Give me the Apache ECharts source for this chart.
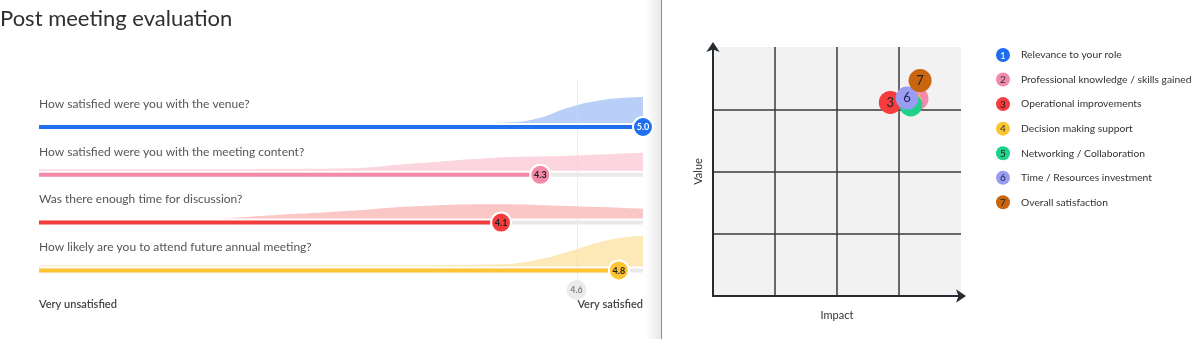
<!DOCTYPE html>
<html><head><meta charset="utf-8">
<script src="https://cdn.jsdelivr.net/npm/echarts@6/dist/echarts.min.js"></script>
<style>html,body{margin:0;padding:0;background:#fff}#c{width:1200px;height:339px}</style>
</head><body><div id="c"></div>
<script>
// ---------- Left panel data ----------
const titleText = 'Post meeting evaluation';
const questions = [
  'How satisfied were you with the venue?',
  'How satisfied were you with the meeting content?',
  'Was there enough time for discussion?',
  'How likely are you to attend future annual meeting?'
];
const scores = [5.0, 4.32, 4.06, 4.84];
const meanScore = 4.56;
const scaleLabels = ['Very unsatisfied', 'Very satisfied'];
// response distribution (score, relative density)
const densityVenue = [[1,0],[3.9,0],[4.1,0.02],[4.3,0.15],[4.5,0.5],[4.7,0.74],[4.9,0.85],[5,0.87]];
const densityContent = [[1,0.05],[2,0.055],[3,0.08],[3.5,0.25],[4,0.43],[4.5,0.5],[5,0.6]];
const densityTime = [[1,0],[2.05,0],[2.6,0.13],[3.06,0.26],[3.5,0.41],[4,0.48],[4.5,0.42],[5,0.33]];
const densityFuture = [[1,0.03],[3.5,0.04],[4.05,0.07],[4.3,0.22],[4.5,0.48],[4.72,0.81],[4.87,0.96],[5,1.02]];
const densities = [densityVenue, densityContent, densityTime, densityFuture];
const rowColors = ['#1f6ff0', '#f48aa8', '#f33d3d', '#fdc434'];
const areaColors = ['#b9cff7', '#fcd5df', '#fbc6c6', '#fde9b7'];
const badgeText = ['#ffffff', '#222222', '#222222', '#222222'];

// ---------- Right panel data ----------
const factors = [
  'Relevance to your role',
  'Professional knowledge / skills gained',
  'Operational improvements',
  'Decision making support',
  'Networking / Collaboration',
  'Time / Resources investment',
  'Overall satisfaction'
];
const impact = [3.22, 3.29, 2.86, 3.18, 3.19, 3.13, 3.34];
const valueScore = [3.15, 3.17, 3.11, 3.12, 3.07, 3.18, 3.46];
const labelVisible = [false, false, true, false, false, true, true];
const factorColors = ['#1d6cf0', '#f48aab', '#f63c3c', '#fbc531', '#20d18b', '#9a9cf0', '#c8650e'];
const factorText = ['#ffffff', '#333333', '#222222', '#333333', '#222222', '#1e2250', '#222222'];
const axisNames = ['Impact', 'Value'];

const FONT = 'Lato, "Open Sans", sans-serif';
const chart = echarts.init(document.getElementById('c'), null, {renderer: 'canvas'});

const barY = [127, 174.8, 222.6, 270.4];
const grids = [], xAxes = [], yAxes = [], series = [];
barY.forEach((by, i) => {
  grids.push({left: 39, width: 604, top: by - 37, height: 48});
  xAxes.push({gridIndex: i, type: 'value', min: 1, max: 5, show: false});
  yAxes.push({gridIndex: i, type: 'value', min: -0.5, max: 1.1, show: false});
  series.push({
    type: 'line', xAxisIndex: i, yAxisIndex: i, data: densities[i], smooth: 0.5,
    symbol: 'none', lineStyle: {width: 0}, z: 1,
    areaStyle: {color: areaColors[i], opacity: 1}, silent: true
  });
  series.push({
    type: 'custom', xAxisIndex: i, yAxisIndex: i, z: 5, silent: true,
    data: [[scores[i]]],
    renderItem: (params, api) => {
      const yb = -4 / 30;
      const s = api.coord([1, yb]);
      const e = api.coord([5, yb]);
      const p = api.coord([api.value(0), yb]);
      return {type: 'group', children: [
        {type: 'text', style: {x: s[0], y: p[1] - 23, text: questions[i], font: '12px ' + FONT, fill: '#555', verticalAlign: 'middle'}},
        {type: 'rect', shape: {x: s[0], y: p[1] - 2, width: e[0] - s[0], height: 4}, style: {fill: '#e9e9e9'}},
        {type: 'rect', shape: {x: s[0], y: p[1] - 2, width: p[0] - s[0], height: 4}, style: {fill: rowColors[i]}},
        {type: 'circle', shape: {cx: p[0], cy: p[1], r: 10}, style: {fill: rowColors[i], stroke: '#fff', lineWidth: 2}},
        {type: 'text', style: {x: p[0], y: p[1] + 0.5, text: api.value(0).toFixed(1), font: 'bold 9px ' + FONT, fill: badgeText[i], align: 'center', verticalAlign: 'middle'}}
      ]};
    }
  });
});
// mean marker grid
grids.push({left: 39, width: 604, top: 80, height: 210});
xAxes.push({gridIndex: 4, type: 'value', min: 1, max: 5, show: false});
yAxes.push({gridIndex: 4, type: 'value', min: 0, max: 1, show: false});
series.push({
  type: 'custom', xAxisIndex: 4, yAxisIndex: 4, z: 3, silent: true, data: [[meanScore]],
  renderItem: (params, api) => {
    const t = api.coord([api.value(0), 1]);
    const b = api.coord([api.value(0), 0]);
    return {type: 'group', children: [
      {type: 'line', shape: {x1: Math.round(t[0]) + 0.5, y1: t[1], x2: Math.round(t[0]) + 0.5, y2: b[1]}, style: {stroke: 'rgba(215,215,215,0.45)', lineWidth: 1}},
      {type: 'circle', shape: {cx: b[0], cy: b[1], r: 10}, style: {fill: '#ebebeb'}},
      {type: 'text', style: {x: b[0], y: b[1], text: api.value(0).toFixed(1), font: '9px ' + FONT, fill: '#666', align: 'center', verticalAlign: 'middle'}}
    ]};
  }
});
// scatter grid
grids.push({left: 713, top: 47, width: 248, height: 249, show: true, backgroundColor: '#f2f2f2', borderWidth: 0});
const axisCommon = {
  gridIndex: 5, type: 'value', min: 0, max: 4, interval: 1,
  axisLine: {show: true, onZero: false, symbol: ['none', 'arrow'], symbolSize: [10, 10], symbolOffset: [0, 5], lineStyle: {color: '#262a33', width: 2}},
  axisTick: {show: false}, axisLabel: {show: false},
  splitLine: {show: true, showMinLine: false, showMaxLine: false, lineStyle: {color: '#3a3a3a', width: 1.5}},
  nameLocation: 'middle', nameTextStyle: {fontFamily: FONT, fontSize: 11, color: '#333'}
};
xAxes.push(Object.assign({}, axisCommon, {name: axisNames[0], nameGap: 14}));
yAxes.push(Object.assign({}, axisCommon, {name: axisNames[1], nameGap: 9, nameRotate: 90}));
series.push({
  type: 'scatter', xAxisIndex: 5, yAxisIndex: 5, symbolSize: 23, z: 5, silent: true,
  data: factors.map((f, i) => ({
    value: [impact[i], valueScore[i]], name: f,
    itemStyle: {color: factorColors[i], opacity: 1},
    label: {show: labelVisible[i], formatter: String(i + 1), color: factorText[i], fontSize: 13, fontFamily: FONT}
  }))
});

// legend + decorations
const graphic = [
  {type: 'text', left: 0, top: 8, style: {text: titleText, font: '22px ' + FONT, fill: '#2f2f2f'}},
  {type: 'text', x: 39, y: 304, style: {text: scaleLabels[0], font: '600 11px ' + FONT, fill: '#444', verticalAlign: 'middle'}},
  {type: 'text', x: 643, y: 304, style: {text: scaleLabels[1], font: '600 11px ' + FONT, fill: '#444', align: 'right', verticalAlign: 'middle'}},
  {type: 'rect', shape: {x: 645, y: 0, width: 16, height: 339}, style: {fill: new echarts.graphic.LinearGradient(0, 0, 1, 0, [{offset: 0, color: '#ffffff'}, {offset: 1, color: '#e9e9e9'}])}},
  {type: 'line', shape: {x1: 661.5, y1: 0, x2: 661.5, y2: 339}, style: {stroke: '#8f8f8f', lineWidth: 1}}
];
factors.forEach((f, i) => {
  const cy = 55 + i * 24.55;
  graphic.push({type: 'circle', shape: {cx: 1003, cy: cy, r: 7}, style: {fill: factorColors[i]}});
  graphic.push({type: 'text', x: 1003, y: cy + 0.5, style: {text: String(i + 1), font: '10px ' + FONT, fill: factorText[i], align: 'center', verticalAlign: 'middle'}});
  graphic.push({type: 'text', x: 1021, y: cy, style: {text: f, font: '10.3px ' + FONT, fill: '#333', verticalAlign: 'middle'}});
});

chart.setOption({
  animation: false,
  backgroundColor: '#fff',
  textStyle: {fontFamily: FONT},
  grid: grids, xAxis: xAxes, yAxis: yAxes, series: series, graphic: graphic
});
</script></body></html>
